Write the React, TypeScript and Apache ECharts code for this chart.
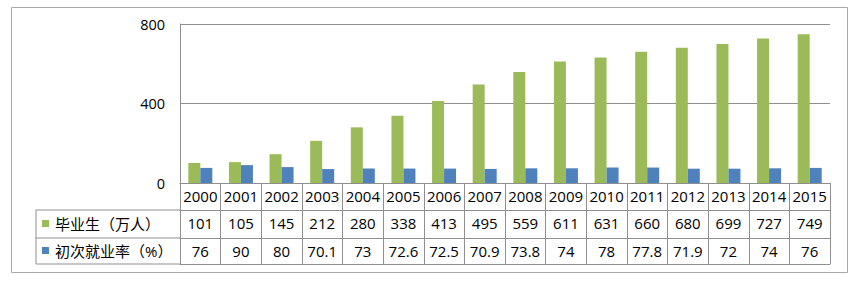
import React, { useEffect, useRef } from "react";
import * as echarts from "echarts";

const years = ["2000","2001","2002","2003","2004","2005","2006","2007","2008","2009","2010","2011","2012","2013","2014","2015"];
const graduates = [101,105,145,212,280,338,413,495,559,611,631,660,680,699,727,749];
const rates = [76,90,80,70.1,73,72.6,72.5,70.9,73.8,74,78,77.8,71.9,72,74,76];
const seriesNames = ["毕业生（万人）", "初次就业率（%）"];
const yTicks = { min: 0, max: 800, interval: 400 };

const GREEN = "#9BBB59";
const BLUE = "#4F81BD";
const LINE = "#8f8f8f";
const FONT = "'Open Sans', 'Noto Sans CJK SC', sans-serif";

export default function App() {
  const ref = useRef<HTMLDivElement>(null);
  useEffect(() => {
    document.body.style.margin = "0";
    const chart = echarts.init(ref.current!, null, { renderer: "svg" });
    const gridLeft = 180, gridRight = 24, gridTop = 24, gridBottom = 101;
    const H = 284;
    const y0 = H - gridBottom; // 183
    const rowH = [27, 28, 26];
    const r1 = y0 + rowH[0];
    const r2 = r1 + rowH[1];
    const r3 = r2 + rowH[2];
    const tableLeft = 36;

    const baseAxis = (offset: number, tickLen: number, labels: (string | number)[] | null) => ({
      type: "category",
      data: years,
      position: "bottom",
      offset,
      axisLine: { show: true, lineStyle: { color: LINE, width: 1 } },
      axisTick: { show: tickLen > 0, length: tickLen, interval: 0, lineStyle: { color: LINE, width: 1 } },
      axisLabel: {
        show: !!labels,
        interval: 0,
        margin: 5,
        color: "#000",
        fontSize: 15,
        fontFamily: FONT,
        formatter: (_v: string, i: number) => (labels ? String(labels[i]) : ""),
      },
      splitLine: { show: false },
    });

    chart.setOption({
      animation: false,
      grid: { left: gridLeft, right: gridRight, top: gridTop, bottom: gridBottom, outerBoundsMode: "none" },
      xAxis: [
        baseAxis(0, rowH[0], years),
        baseAxis(rowH[0], rowH[1], graduates),
        baseAxis(rowH[0] + rowH[1], rowH[2], rates),
        baseAxis(rowH[0] + rowH[1] + rowH[2], 0, null),
      ],
      yAxis: {
        type: "value",
        min: yTicks.min,
        max: yTicks.max,
        interval: yTicks.interval,
        axisLine: { show: true, lineStyle: { color: LINE } },
        axisTick: { show: false },
        axisLabel: { margin: 15, color: "#000", fontSize: 14.5, fontFamily: FONT },
        splitLine: { show: true, lineStyle: { color: LINE } },
      },
      series: [
        { name: seriesNames[0], type: "bar", data: graduates, barWidth: 12, barGap: "0%", itemStyle: { color: GREEN }, xAxisIndex: 0 },
        { name: seriesNames[1], type: "bar", data: rates, barWidth: 12, barGap: "0%", itemStyle: { color: BLUE }, xAxisIndex: 0 },
      ],
      graphic: [
        { type: "rect", shape: { x: 11.5, y: 7.5, width: 836, height: 265 }, style: { fill: "none", stroke: "#a8a8a8", lineWidth: 1 }, silent: true },
        { type: "line", shape: { x1: tableLeft, y1: r1, x2: gridLeft, y2: r1 }, style: { stroke: LINE, lineWidth: 1 } },
        { type: "line", shape: { x1: tableLeft, y1: r2, x2: gridLeft, y2: r2 }, style: { stroke: LINE, lineWidth: 1 } },
        { type: "line", shape: { x1: tableLeft, y1: r3, x2: gridLeft, y2: r3 }, style: { stroke: LINE, lineWidth: 1 } },
        { type: "line", shape: { x1: tableLeft, y1: r1, x2: tableLeft, y2: r3 }, style: { stroke: LINE, lineWidth: 1 } },
        { type: "rect", shape: { x: 42, y: (r1 + r2) / 2 - 4, width: 7, height: 7 }, style: { fill: GREEN } },
        { type: "rect", shape: { x: 42, y: (r2 + r3) / 2 - 4, width: 7, height: 7 }, style: { fill: BLUE } },
        { type: "text", x: 55, y: (r1 + r2) / 2, style: { text: seriesNames[0], fill: "#000", fontSize: 15, fontFamily: FONT, verticalAlign: "middle" } },
        { type: "text", x: 55, y: (r2 + r3) / 2, style: { text: seriesNames[1], fill: "#000", fontSize: 15, fontFamily: FONT, verticalAlign: "middle" } },
      ],
    });
    return () => chart.dispose();
  }, []);
  return <div ref={ref} style={{ width: 854, height: 284 }} />;
}
